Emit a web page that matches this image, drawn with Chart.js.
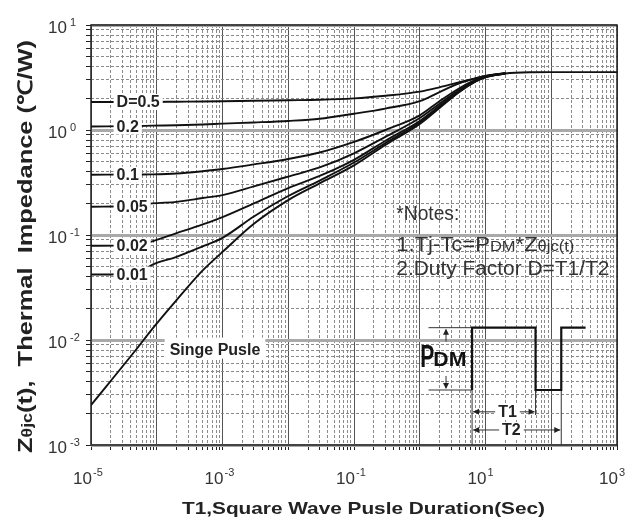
<!DOCTYPE html>
<html>
<head>
<meta charset="utf-8">
<script src="https://cdn.jsdelivr.net/npm/chart.js@4.4.0/dist/chart.umd.min.js"></script>
<style>
  html, body { margin: 0; padding: 0; background: #fff; }
  #wrap { width: 632px; height: 520px; }
</style>
</head>
<body>
<div id="wrap"><canvas id="zth"></canvas></div>
<script>
// pulse duration T1 (s), shared by all curves
const durations = [1e-5, 5e-5, 8.5e-5, 2e-4, 5e-4, 1e-3, 3e-3, 1e-2, 3e-2, 1e-1, 3e-1, 1, 2, 4, 7, 10, 20, 50, 100, 1000];

// Zthjc (C/W); null = curve already merged into single pulse
const zD05    = [1.85, 1.85, 1.85, 1.86, 1.87, 1.88, 1.90, 1.92, 1.94, 2.00, 2.12, 2.32, 2.55, 2.85, 3.10, 3.28, 3.47, null, null, null];
const zD02    = [1.08, 1.09, 1.10, 1.11, 1.13, 1.15, 1.18, 1.22, 1.28, 1.43, 1.60, 1.88, 2.30, 2.78, 3.10, 3.27, 3.47, null, null, null];
const zD01    = [0.375, 0.377, 0.378, 0.385, 0.405, 0.425, 0.47, 0.53, 0.61, 0.77, 1.00, 1.38, 1.88, 2.50, 3.00, 3.24, 3.46, null, null, null];
const zD005   = [0.186, 0.19, 0.20, 0.207, 0.225, 0.24, 0.29, 0.36, 0.44, 0.60, 0.86, 1.30, 1.78, 2.42, 2.95, 3.22, 3.46, null, null, null];
const zD002   = [0.079, 0.080, 0.087, 0.104, 0.126, 0.148, 0.20, 0.28, 0.365, 0.52, 0.79, 1.22, 1.70, 2.35, 2.92, 3.20, 3.45, null, null, null];
const zD001   = [0.042, 0.043, 0.052, 0.062, 0.078, 0.094, 0.15, 0.235, 0.33, 0.49, 0.75, 1.18, 1.66, 2.32, 2.90, 3.20, 3.45, null, null, null];
const zSingle = [0.0024, 0.0083, 0.0127, 0.024, 0.046, 0.069, 0.128, 0.215, 0.31, 0.46, 0.72, 1.14, 1.62, 2.30, 2.88, 3.18, 3.45, 3.55, 3.56, 3.56];

const curveNames = ['D=0.5', '0.2', '0.1', '0.05', '0.02', '0.01', 'Singe Pusle'];
const series = [zD05, zD02, zD01, zD005, zD002, zD001, zSingle];

// decade exponents that get a "10^n" label
const xLabelExps = [-5, -3, -1, 1, 3];
const yLabelExps = [-3, -2, -1, 0, 1];

const FONT = "'Liberation Sans', Arial, sans-serif";

function isDecade(v) {
  const l = Math.log10(v);
  return Math.abs(l - Math.round(l)) < 1e-9;
}

function gridValues(e0, e1) {
  const out = [];
  for (let e = e0; e < e1; e++) {
    for (let k = 1; k < 10; k++) out.push(k * Math.pow(10, e));
  }
  out.push(Math.pow(10, e1));
  return out;
}

// draw a run of text pieces with different fonts, squeezed/stretched to a width
function drawParts(ctx, parts, x, y, width, color) {
  ctx.save();
  ctx.fillStyle = color;
  ctx.textBaseline = 'alphabetic';
  ctx.textAlign = 'left';
  let total = 0;
  parts.forEach(p => { ctx.font = p.f; p.w = ctx.measureText(p.t).width; total += p.w; });
  ctx.translate(x, y);
  if (width) ctx.scale(width / total, 1);
  let cx = 0;
  parts.forEach(p => { ctx.font = p.f; ctx.fillText(p.t, cx, p.dy || 0); cx += p.w; });
  ctx.restore();
}

function arrowHead(ctx, x, y, dx, dy) {
  const len = 6, half = 3;
  ctx.beginPath();
  ctx.moveTo(x, y);
  ctx.lineTo(x - dx * len - dy * half, y - dy * len - dx * half);
  ctx.lineTo(x - dx * len + dy * half, y - dy * len + dx * half);
  ctx.closePath();
  ctx.fill();
}

// where the curve labels sit (left edge of text, in seconds)
const labelLeft = 2.45e-5;
const singleLabel = { x: 1.57e-4, y: 0.0081 };

// notes block and pulse sketch, placed in axis units
const notes = { x: 0.44, y0: 0.14, y1: 0.0709, y2: 0.0419 };
const inset = {
  xRef: 1.36, xArrow: 2.51, xRise: 6.25, xFall: 57.7, xRise2: 142, xEnd: 333,
  yHigh: 0.0131, yLow: 0.00334, yT1: 0.00207, yT2: 0.00139, yT1Ext: 0.00193,
  xP: 1.02, yPBase: 0.00557, xT1: 21.6, xT2: 24.8
};

const decor = {
  id: 'decor',
  beforeDatasetsDraw(chart) {
    const { ctx, chartArea: a } = chart;
    ctx.save();
    ctx.strokeStyle = '#222';
    ctx.lineWidth = 1.5;
    ctx.strokeRect(a.left, a.top, a.right - a.left, a.bottom - a.top);
    ctx.restore();
  },
  afterDatasetsDraw(chart) {
    const { ctx, chartArea: a } = chart;
    const xs = chart.scales.x, ys = chart.scales.y;
    const X = v => xs.getPixelForValue(v), Y = v => ys.getPixelForValue(v);

    // curve labels on white
    ctx.save();
    ctx.font = 'bold 16px ' + FONT;
    ctx.textBaseline = 'middle';
    ctx.textAlign = 'left';
    series.forEach((s, i) => {
      const single = i === series.length - 1;
      const px = single ? X(singleLabel.x) : X(labelLeft);
      const py = single ? Y(singleLabel.y) : Y(s[0]);
      const w = ctx.measureText(curveNames[i]).width;
      ctx.fillStyle = '#fff';
      if (single) ctx.fillRect(px - 5, py - 12, w + 10, 21);
      else ctx.fillRect(px - 3, py - 8, w + 6, 16);
      ctx.fillStyle = '#222';
      ctx.fillText(curveNames[i], px, py + 1);
    });
    ctx.restore();

    // notes
    const nx = X(notes.x);
    drawParts(ctx, [{ t: '*Notes:', f: '20px ' + FONT }], nx, Y(notes.y0), 63, '#333');
    drawParts(ctx, [
      { t: '1.Tj-Tc=P', f: '20px ' + FONT },
      { t: 'DM', f: '15px ' + FONT },
      { t: '*Z', f: '20px ' + FONT },
      { t: 'θjc(t)', f: '15px ' + FONT }
    ], nx, Y(notes.y1), 178, '#333');
    drawParts(ctx, [{ t: '2.Duty Factor D=T1/T2', f: '20px ' + FONT }], nx, Y(notes.y2), 213, '#333');

    // pulse sketch
    const xr = X(inset.xRef), xa = X(inset.xArrow), x1 = X(inset.xRise), x2 = X(inset.xFall);
    const x3 = X(inset.xRise2), x4 = X(inset.xEnd);
    const yh = Y(inset.yHigh), yl = Y(inset.yLow);
    ctx.save();
    ctx.strokeStyle = '#333';
    ctx.fillStyle = '#222';
    ctx.lineWidth = 1;
    ctx.beginPath();
    ctx.moveTo(xr, yh); ctx.lineTo(x1, yh);
    ctx.moveTo(xr, yl); ctx.lineTo(x1, yl);
    ctx.moveTo(x1, yl); ctx.lineTo(x1, a.bottom);
    ctx.moveTo(x2, yl); ctx.lineTo(x2, Y(inset.yT1Ext));
    ctx.moveTo(x3, yl); ctx.lineTo(x3, a.bottom);
    ctx.stroke();

    ctx.strokeStyle = '#111';
    ctx.lineWidth = 2.2;
    ctx.beginPath();
    ctx.moveTo(x1, yl); ctx.lineTo(x1, yh); ctx.lineTo(x2, yh); ctx.lineTo(x2, yl);
    ctx.lineTo(x3, yl); ctx.lineTo(x3, yh); ctx.lineTo(x4, yh);
    ctx.stroke();

    // P_DM dimension arrow
    ctx.lineWidth = 1;
    ctx.strokeStyle = '#333';
    ctx.beginPath();
    ctx.moveTo(xa, yh + 2); ctx.lineTo(xa, yh + 14);
    ctx.moveTo(xa, yl - 14); ctx.lineTo(xa, yl - 2);
    ctx.stroke();
    arrowHead(ctx, xa, yh + 1, 0, -1);
    arrowHead(ctx, xa, yl - 1, 0, 1);

    // P_DM text
    const pb = Y(inset.yPBase), pl = X(inset.xP);
    drawParts(ctx, [{ t: 'P', f: 'bold 32px ' + FONT }], pl, pb, 14, '#111');
    drawParts(ctx, [{ t: 'DM', f: 'bold 20px ' + FONT }], pl + 13, pb - 1, 33, '#111');

    // T1 / T2 arrows
    [[inset.yT1, x2, 'T1', inset.xT1], [inset.yT2, x3, 'T2', inset.xT2]].forEach(([yv, xe, lab, xt]) => {
      const yy = Y(yv);
      ctx.strokeStyle = '#333';
      ctx.beginPath();
      ctx.moveTo(x1 + 1, yy); ctx.lineTo(xe - 1, yy);
      ctx.stroke();
      arrowHead(ctx, x1 + 1, yy, -1, 0);
      arrowHead(ctx, xe - 1, yy, 1, 0);
      ctx.font = 'bold 16px ' + FONT;
      const w = ctx.measureText(lab).width;
      const cx = X(xt);
      ctx.fillStyle = '#fff';
      ctx.fillRect(cx - w / 2 - 3, yy - 8, w + 6, 16);
      ctx.fillStyle = '#222';
      ctx.textAlign = 'center';
      ctx.textBaseline = 'middle';
      ctx.fillText(lab, cx, yy + 1);
    });
    ctx.restore();
  },
  afterDraw(chart) {
    const { ctx, chartArea: a } = chart;
    const xs = chart.scales.x, ys = chart.scales.y;
    ctx.save();
    ctx.fillStyle = '#333';
    // x tick labels
    xLabelExps.forEach(e => {
      const px = xs.getPixelForValue(Math.pow(10, e));
      ctx.font = '17px ' + FONT;
      ctx.textAlign = 'right';
      ctx.textBaseline = 'alphabetic';
      ctx.fillText('10', px + 1, a.bottom + 39);
      ctx.font = '11px ' + FONT;
      ctx.textAlign = 'left';
      ctx.fillText(String(e), px + 2, a.bottom + 31);
    });
    // y tick labels
    yLabelExps.forEach(e => {
      const py = ys.getPixelForValue(Math.pow(10, e));
      ctx.font = '17px ' + FONT;
      ctx.textAlign = 'right';
      ctx.textBaseline = 'alphabetic';
      ctx.fillText('10', a.left - 24, py + 8);
      ctx.font = '11px ' + FONT;
      ctx.textAlign = 'left';
      ctx.fillText(String(e), a.left - 21, py + 1);
    });
    ctx.restore();

    // x title
    drawParts(ctx, [{ t: 'T1,Square Wave Pusle Duration(Sec)', f: 'bold 17px ' + FONT }], 182, 514, 363, '#222');

    // y title, rotated
    ctx.save();
    ctx.translate(32, 453);
    ctx.rotate(-Math.PI / 2);
    drawParts(ctx, [
      { t: 'Z', f: 'bold 20px ' + FONT },
      { t: 'θjc', f: 'bold 14px ' + FONT },
      { t: '(t),  Thermal  Impedance (℃/W)', f: 'bold 20px ' + FONT }
    ], 0, 0, 413, '#222');
    ctx.restore();
  }
};

const ctx = document.getElementById('zth').getContext('2d');
new Chart(ctx, {
  type: 'line',
  data: {
    datasets: series.map((s, i) => ({
      label: curveNames[i],
      data: durations.map((t, j) => ({ x: t, y: s[j] })).filter(p => p.y !== null),
      borderColor: '#111',
      borderWidth: 1.9,
      pointRadius: 0,
      fill: false,
      cubicInterpolationMode: 'monotone'
    }))
  },
  options: {
    responsive: true,
    maintainAspectRatio: false,
    animation: false,
    layout: { padding: { left: 86, right: 15, top: 25, bottom: 70 } },
    plugins: { legend: { display: false }, tooltip: { enabled: false } },
    scales: {
      x: {
        type: 'logarithmic',
        min: 1e-5,
        max: 1e3,
        afterBuildTicks: s => { s.ticks = gridValues(-5, 3).map(v => ({ value: v })); },
        ticks: { display: false },
        grid: {
          color: c => (c.tick && isDecade(c.tick.value)) ? '#555' : '#8a8a8a',
          lineWidth: 1,
          tickColor: '#222',
          tickWidth: 1,
          tickLength: 5
        },
        border: { display: false, dash: c => (c.tick && !isDecade(c.tick.value)) ? [3, 2] : [] }
      },
      y: {
        type: 'logarithmic',
        min: 1e-3,
        max: 10,
        afterBuildTicks: s => { s.ticks = gridValues(-3, 1).map(v => ({ value: v })); },
        ticks: { display: false },
        grid: {
          color: c => (c.tick && isDecade(c.tick.value)) ? '#a9a9a9' : '#8a8a8a',
          lineWidth: c => (c.tick && isDecade(c.tick.value)) ? 3 : 1,
          tickColor: '#222',
          tickWidth: 1,
          tickLength: 5
        },
        border: { display: false, dash: c => (c.tick && !isDecade(c.tick.value)) ? [3, 2] : [] }
      }
    }
  },
  plugins: [decor]
});
</script>
</body>
</html>
